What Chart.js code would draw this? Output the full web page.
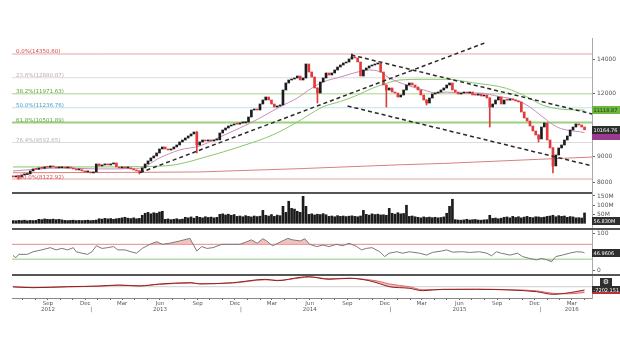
<!DOCTYPE html>
<html><head><meta charset="utf-8">
<script src="https://cdn.jsdelivr.net/npm/chart.js@4.4.1/dist/chart.umd.min.js"></script>
<style>
html,body{margin:0;padding:0;background:#fff;}
#wrap{position:relative;width:620px;height:355px;overflow:hidden;}
canvas{position:absolute;left:0;}
</style></head>
<body><div id="wrap">
<canvas id="cMain" width="620" height="192" style="top:0px"></canvas>
<canvas id="cVol" width="620" height="36" style="top:192px"></canvas>
<canvas id="cRsi" width="620" height="46" style="top:228px"></canvas>
<canvas id="cOsc" width="620" height="60" style="top:274px"></canvas>
</div>
<script>
// ---------------- DATA ----------------
// weekly candles, week 0 = week of 8 Jun 2012
const startDate = '2012-06-08';
const openVals = [8240,8201,8239,8201,8276,8290,8314,8428,8505,8490,
8544,8530,8583,8570,8622,8583,8544,8550,8583,8544,
8583,8544,8505,8466,8475,8428,8390,8395,8352,8390,
8701,8622,8661,8701,8661,8701,8740,8583,8544,8583,
8544,8550,8505,8466,8428,8390,8544,8701,8820,8941,
9023,9147,9315,9400,9315,9272,9315,9400,9485,9616,
9703,9792,9882,9972,10063,9485,9616,9703,9659,9703,
9659,9703,9710,10017,10155,10248,10341,10389,10436,10430,
10484,10490,10531,10774,11122,11173,11122,11430,11640,11800,
11640,11430,11275,11327,11378,12182,12576,12749,12807,12866,
12983,12749,12866,13712,13222,12924,12293,12016,12634,12866,
13162,13043,13162,13343,13526,13650,13775,13838,14028,14156,
14092,13838,12983,13343,13465,13588,13650,13712,13775,13222,
12462,12182,12293,12071,12016,11800,11908,12182,12462,12576,
12462,12349,12182,11908,11640,11482,11746,11962,12016,12071,
12182,12293,12462,12576,12182,12071,11962,12016,12071,12016,
12071,11908,11900,11962,11854,11908,11746,11275,11430,11640,
11800,11430,11640,11630,11693,11640,11587,11535,11021,10725,
10579,10341,10109,9927,9748,10294,10484,9703,9357,8622,
9064,9357,9485,9703,9882,10155,10294,10436,10389,10294];
const closeVals = [8201,8239,8201,8276,8290,8314,8428,8505,8490,8544,
8530,8583,8570,8622,8583,8544,8550,8583,8544,8583,
8544,8505,8466,8475,8428,8390,8395,8352,8390,8701,
8622,8661,8701,8661,8701,8740,8583,8544,8583,8544,
8550,8505,8466,8428,8390,8544,8701,8820,8941,9023,
9147,9315,9400,9315,9272,9315,9400,9485,9616,9703,
9792,9882,9972,10063,9485,9616,9703,9659,9703,9659,
9703,9710,10017,10155,10248,10341,10389,10436,10430,10484,
10490,10531,10774,11122,11173,11122,11430,11640,11800,11640,
11430,11275,11327,11378,12182,12576,12749,12807,12866,12983,
12749,12866,13712,13222,12924,12293,12016,12634,12866,13162,
13043,13162,13343,13526,13650,13775,13838,14028,14156,14092,
13838,12983,13343,13465,13588,13650,13712,13775,13222,12462,
12182,12293,12071,12016,11800,11908,12182,12462,12576,12462,
12349,12182,11908,11640,11482,11746,11962,12016,12071,12182,
12293,12462,12576,12182,12071,11962,12016,12071,12016,12071,
11908,11900,11962,11854,11908,11746,11275,11430,11640,11800,
11430,11640,11630,11693,11640,11587,11535,11021,10725,10579,
10341,10109,9927,9748,10294,10484,9703,9357,8622,9064,
9357,9485,9703,9882,10155,10294,10436,10389,10294,10164.76];
// visible wicks: [week, low, high]
const wicks = [[2,8123,8260],[44,8314,8440],[64,9147,10080],[106,11482,12300],[118,14028,14351],
[130,11275,12470],[144,11378,11650],[166,10294,11760],[183,9616,9940],[188,8352,9370]];
// volume (millions)
const volumeVals = [15,14,16,15,17,14,16,15,16,
22,20,24,22,21,23,20,22,19,
16,15,16,17,15,16,15,16,17,15,16,18,
25,23,27,24,26,22,25,
27,30,33,28,26,30,25,27,
44,55,60,52,58,55,62,66,
22,24,20,22,25,21,23,
33,30,35,28,38,33,30,36,32,34,30,33,
49,52,46,50,44,48,
38,40,36,42,38,35,40,37,39,
71,
44,40,48,38,45,42,
93,60,121,82,78,66,60,148,93,
49,52,46,50,48,53,47,
38,40,36,42,38,40,37,39,41,38,36,40,
71,
49,45,52,48,50,46,47,44,
82,
55,50,58,52,54,
99,
38,40,36,
33,30,35,32,34,31,33,30,32,35,
55,93,132,
20,18,17,19,22,18,20,21,18,17,19,20,
44,
27,29,25,28,
33,35,30,38,32,36,30,34,38,33,31,36,35,32,
34,38,40,44,36,42,38,40,33,37,35,30,
31,29,56.83];
// moving averages (sampled at weeks)
const pinkWeek = [0,9.4,16.3,30,44,51,58,65,72,79,86,93,99,103,108,114,120,124,128,131,137,143,147.5,151,155.5,162.4,169.4,175.3,179.8,184.3,189.2,192.7,197.2,199];
const pinkVal  = [8428,8505,8544,8505,8532,8941,9272,9442,9837,10248,10725,11290,11746,12182,12634,12924,13222,13343,13222,12866,12462,12182,12016,12071,12016,12016,11817,11640,11290,10790,10309,10155,10077,10030];
const greenWeek = [0,16,30,44,56,67.5,79,90.4,99,102,108,114,120,125,130,134.6,142.6,151,160,171.8,178.8,184.3,191.3,199];
const greenVal  = [8583,8583,8583,8596,8661,8995,9413,9927,10531,10790,11290,11561,11908,12271,12555,12749,12790,12790,12593,12276,11817,11378,11157,11118.87];
const longWeek = [0,44,65,100,135,150,183,201.6];
const longVal  = [8359,8375,8390,8517,8669,8721,8886,8978];
// trend lines: [week1, price1, week2, price2]
const trendLines = [[44.2,8363,164.5,15107],[117.8,14286,201.7,10922],[116.5,11327,201.7,8622]];
// fibonacci retracement
const fibNames  = ['0.0%','23.6%','38.2%','50.0%','61.8%','76.4%','100.0%'];
const fibLevels = [14350.60,12880.87,11971.63,11236.76,10501.89,9592.65,8122.92];
// RSI
const rsiWeek = [0,1,2,5,7,10,13,15,17,19,21,22,24,26,27.5,29,31,33,35,36.5,39,41,43,45,47.7,50,52,54.6,58,61.6,64,65.7,67.5,69.6,72.7,76.5,79,81.4,83,85,87,88.3,90.4,93,95.7,97.4,100,101.6,103.3,105.7,108,110,112.7,114.8,117,119.7,121.4,123,125,127.7,129.4,131,133.6,135.7,138,141.6,144,146,149.2,151,153,156.5,159,162.4,165,166.6,168.3,170,173,175.7,177.4,179.8,182.3,184,186,187.5,189,191.3,193.7,196.2,198.3,199];
const rsiVal  = [40,34,43,43,50,55,61,55,59,55,61,50,46,43,50,66,59,61,64,55,55,50,46,59,70,77,70,73,79,86,52,64,59,61,70,70,70,77,82,73,85,79,66,76,86,82,79,85,70,64,68,64,70,66,73,64,55,59,61,50,37,46,50,46,50,46,41,48,52,55,49,50,48,50,46,39,50,46,41,46,37,32,28,32,28,23,37,41,46,50,49,46.9606];
// oscillator (two lines)
const oscWeek = [0,7,19,30,37,44,51,62,65,76.5,88,92,100,103,110,117,124,128,131,138,142.6,149.6,161.4,173,182.3,188,193.7,199];
const oscA = [-200,-2182,0,1527,3709,1527,5891,8728,5891,8728,16147,13092,20511,21820,16147,18329,13092,5891,0,-3491,-8728,-5673,-5673,-7201,-10910,-16583,-13092,-7202.151];
const oscB = [-400,-1800,-300,1000,3000,2000,5000,8000,6800,8000,15000,14000,19000,21000,17500,18500,15000,11000,6000,0,-6500,-6200,-5500,-6500,-9000,-14500,-15500,-12500];
// axis tick labels
const priceTicks = [8000,9000,12000,14000];
const volTicks = [50,100,150];
const rsiTicks = [0,100];
const monthNames = ['Jan','Feb','Mar','Apr','May','Jun','Jul','Aug','Sep','Oct','Nov','Dec'];
const yearLabels = {'2012-8':'2012','2013-5':'2013','2014-5':'2014','2015-5':'2015','2016-2':'2016'};

// ---------------- SETUP ----------------
const FONT = '"DejaVu Sans", Verdana, sans-serif';
Chart.defaults.font.family = FONT;
Chart.defaults.font.size = 6;
Chart.defaults.color = '#555';
Chart.defaults.animation = false;
Chart.defaults.plugins.legend.display = false;
Chart.defaults.plugins.tooltip.enabled = false;
Chart.defaults.elements.point.radius = 0;

const X_MIN = -0.35, X_MAX = 201.6;
const weeks = closeVals.map((_, i) => i);
const t0 = Date.parse(startDate + 'T00:00:00Z');
const monthTicks = [];
for (let yr = 2012; yr <= 2016; yr++) {
  for (let m = 0; m < 12; m++) {
    const w = (Date.UTC(yr, m, 1) - t0) / (7 * 864e5);
    if (w < X_MIN || w > X_MAX) continue;
    const q = (m % 3 === 2);
    let label = '';
    if (q) { const y = yearLabels[yr + '-' + m]; label = y ? [monthNames[m], y] : [monthNames[m], '']; }
    monthTicks.push({ week: w, label, dec: m === 11 });
  }
}

function pts(xs, ys) { return xs.map((x, i) => ({ x, y: ys[i] })); }
function hline(v) { return [{ x: X_MIN, y: v }, { x: X_MAX, y: v }]; }

function rightAxis(type, min, max, tickVals, fmt) {
  return {
    type, min, max, position: 'right',
    border: { display: true, color: '#aaa', width: 1 },
    grid: { drawOnChartArea: false, drawTicks: true, tickLength: 3, color: '#666' },
    ticks: { padding: 2, color: '#555', font: { size: 6 }, autoSkip: false, maxRotation: 0,
             display: tickVals.length > 0, callback: fmt },
    afterBuildTicks: s => { s.ticks = tickVals.map(v => ({ value: v })); },
    afterFit: s => { s.width = 28; s.paddingTop = 0; s.paddingBottom = 0; }
  };
}
const hiddenX = { type: 'linear', min: X_MIN, max: X_MAX, display: false, offset: false };

function labelBox(ctx, y, text, bg, fg) {
  const x0 = 592, w = 28;
  ctx.fillStyle = bg; ctx.fillRect(x0, Math.round(y) - 4, w, 8);
  ctx.fillStyle = fg; ctx.font = '5px ' + FONT; ctx.textBaseline = 'middle'; ctx.textAlign = 'left';
  ctx.fillText(text, x0 + 1.5, Math.round(y) + 0.5, w - 2);
}
function separator(chart, right) {
  const { ctx, chartArea } = chart;
  ctx.save(); ctx.strokeStyle = '#555'; ctx.lineWidth = 2;
  ctx.beginPath(); ctx.moveTo(chartArea.left, chartArea.top + 1); ctx.lineTo(right, chartArea.top + 1); ctx.stroke();
  ctx.restore();
}

// ---------------- MAIN PRICE PANE ----------------
const fibLine = ['#e8a5a5','#dcdcdc','#a8d48e','#c2e1ea','#9ccf80','#dcdcdc','#e8a5a5'];
const fibText = ['#d24a4a','#c9a5a5','#5e9e38','#4aa0b8','#5e9e38','#b4b4b4','#d24a4a'];
const candleColor = weeks.map(i => closeVals[i] >= openVals[i] ? '#1c1c1c' : '#e23a3a');

const mainDatasets = [];
trendLines.forEach(t => mainDatasets.push({ type: 'line', data: [{ x: t[0], y: t[1] }, { x: t[2], y: t[3] }],
  borderColor: '#2a2a2a', borderWidth: 1.5, borderDash: [4, 3], order: 1 }));
mainDatasets.push({ type: 'bar', grouped: false, barThickness: 1, order: 2,
  data: wicks.map(w => ({ x: w[0], y: [w[1], w[2]] })),
  backgroundColor: wicks.map(w => candleColor[w[0]]) });
mainDatasets.push({ type: 'bar', grouped: false, barThickness: 2, minBarLength: 1, order: 3,
  data: weeks.map(i => ({ x: i, y: [openVals[i], closeVals[i]] })), backgroundColor: candleColor });
mainDatasets.push({ type: 'line', data: pts(pinkWeek, pinkVal), borderColor: '#c98cb8', borderWidth: 1, tension: 0.3, cubicInterpolationMode: 'monotone', order: 4 });
mainDatasets.push({ type: 'line', data: pts(greenWeek, greenVal), borderColor: '#8cc66c', borderWidth: 1, tension: 0.3, cubicInterpolationMode: 'monotone', order: 4 });
mainDatasets.push({ type: 'line', data: pts(longWeek, longVal), borderColor: '#d88080', borderWidth: 1, order: 5 });
fibLevels.forEach((v, k) => mainDatasets.push({ type: 'line', data: hline(v), borderColor: fibLine[k], borderWidth: k === 4 ? 2 : 1, order: 6 }));

const mainOverlay = {
  id: 'mainOverlay',
  afterDatasetsDraw(chart) {
    const { ctx } = chart; const y = chart.scales.y;
    ctx.save(); ctx.font = '5.5px ' + FONT; ctx.textBaseline = 'alphabetic'; ctx.textAlign = 'left';
    fibLevels.forEach((v, k) => { ctx.fillStyle = fibText[k]; ctx.fillText(fibNames[k] + '(' + v.toFixed(2) + ')', 16, y.getPixelForValue(v) - 0.5); });
    ctx.restore();
  },
  afterDraw(chart) {
    const { ctx } = chart; const y = chart.scales.y;
    ctx.save();
    const gl = greenVal[greenVal.length - 1], pl = pinkVal[pinkVal.length - 1], cl = closeVals[closeVals.length - 1];
    labelBox(ctx, y.getPixelForValue(gl), gl.toFixed(2), '#6db640', '#1b3a0c');
    labelBox(ctx, y.getPixelForValue(pl) + 3, '', '#9a3c8e', '#fff');
    labelBox(ctx, y.getPixelForValue(cl), cl.toFixed(2), '#2e2e2e', '#fff');
    ctx.restore();
  }
};
new Chart(document.getElementById('cMain'), {
  type: 'line', data: { datasets: mainDatasets },
  options: { responsive: false, devicePixelRatio: 1,
    layout: { padding: { left: 12, top: 38, right: 0, bottom: 0 } },
    scales: { x: hiddenX, y: rightAxis('logarithmic', 7658, 15434, priceTicks, v => String(v)) } },
  plugins: [mainOverlay]
});

// ---------------- VOLUME ----------------
new Chart(document.getElementById('cVol'), {
  type: 'bar',
  data: { datasets: [{ type: 'bar', grouped: false, barThickness: 2, data: pts(weeks, volumeVals), backgroundColor: '#1c1c1c' }] },
  options: { responsive: false, devicePixelRatio: 1,
    layout: { padding: { left: 12, top: 0, right: 0, bottom: 0 } },
    scales: { x: hiddenX, y: rightAxis('linear', -25.8, 171.8, volTicks, v => v + 'M') } },
  plugins: [{ id: 'volOverlay', afterDraw(chart) {
    const { ctx, chartArea } = chart; separator(chart, 592);
    ctx.save(); labelBox(ctx, chartArea.bottom - 7, volumeVals[volumeVals.length - 1].toFixed(3) + 'M', '#2e2e2e', '#fff'); ctx.restore();
  } }]
});

// ---------------- RSI ----------------
new Chart(document.getElementById('cRsi'), {
  type: 'line',
  data: { datasets: [
    { data: pts(rsiWeek, rsiVal), borderColor: '#7a7a7a', borderWidth: 1, order: 1,
      fill: { target: { value: 70 }, above: 'rgba(238,150,150,0.6)', below: 'rgba(0,0,0,0)' } },
    { data: pts(rsiWeek, rsiVal), borderColor: 'rgba(0,0,0,0)', borderWidth: 0, order: 2,
      fill: { target: { value: 30 }, above: 'rgba(0,0,0,0)', below: 'rgba(150,205,130,0.6)' } },
    { data: hline(70), borderColor: '#e38b8b', borderWidth: 1, order: 3 },
    { data: hline(30), borderColor: '#92cf7c', borderWidth: 1, order: 3 }
  ] },
  options: { responsive: false, devicePixelRatio: 1,
    layout: { padding: { left: 12, top: 0, right: 0, bottom: 0 } },
    scales: { x: hiddenX, y: rightAxis('linear', -10, 114, rsiTicks, v => String(v)) } },
  plugins: [{ id: 'rsiOverlay', afterDraw(chart) {
    const { ctx } = chart; separator(chart, 620);
    ctx.save(); labelBox(ctx, chart.scales.y.getPixelForValue(rsiVal[rsiVal.length - 1]), rsiVal[rsiVal.length - 1].toFixed(4), '#2e2e2e', '#fff'); ctx.restore();
  } }]
});

// ---------------- OSCILLATOR + X AXIS ----------------
new Chart(document.getElementById('cOsc'), {
  type: 'line',
  data: { datasets: [
    { data: pts(oscWeek, oscA), borderColor: '#8e1f1f', borderWidth: 1, tension: 0.3, cubicInterpolationMode: 'monotone', order: 1 },
    { data: pts(oscWeek, oscB), borderColor: '#e06a6a', borderWidth: 1, tension: 0.3, cubicInterpolationMode: 'monotone', order: 2,
      fill: { target: 0, above: 'rgba(225,110,110,0.45)', below: 'rgba(225,110,110,0.45)' } },
    { data: hline(0), borderColor: '#d0d0d0', borderWidth: 1, order: 3 }
  ] },
  options: { responsive: false, devicePixelRatio: 1,
    layout: { padding: { left: 12, top: 0, right: 0, bottom: 0 } },
    scales: {
      x: { type: 'linear', min: X_MIN, max: X_MAX, offset: false, position: 'bottom',
        border: { display: true, color: '#888', width: 1 },
        grid: { drawOnChartArea: false, drawTicks: true, tickLength: 2, color: '#666' },
        ticks: { autoSkip: false, maxRotation: 0, minRotation: 0, padding: 1, color: '#555',
                 font: { size: 5.5, lineHeight: 1 }, callback: (v, i) => monthTicks[i] ? monthTicks[i].label : '' },
        afterBuildTicks: s => { s.ticks = monthTicks.map(t => ({ value: t.week })); },
        afterFit: s => { s.height = 36; s.paddingLeft = 0; s.paddingRight = 0; } },
      y: rightAxis('linear', -24657, 27711, [], v => '')
    } },
  plugins: [{ id: 'oscOverlay', afterDraw(chart) {
    const { ctx, chartArea } = chart; separator(chart, 620);
    const x = chart.scales.x, y = chart.scales.y;
    ctx.save();
    ctx.fillStyle = '#555'; ctx.font = '5.5px ' + FONT; ctx.textAlign = 'center'; ctx.textBaseline = 'top';
    monthTicks.filter(t => t.dec).forEach(t => ctx.fillText('|', x.getPixelForValue(t.week) + 6, chartArea.bottom + 8.5));
    const py = y.getPixelForValue(oscA[oscA.length - 1]);
    ctx.fillStyle = '#2e2e2e'; ctx.fillRect(600, py - 12, 12, 8);
    ctx.fillStyle = '#fff'; ctx.font = '7px ' + FONT; ctx.textAlign = 'center'; ctx.textBaseline = 'middle';
    ctx.fillText('\u2699', 606, py - 8);
    labelBox(ctx, py, oscA[oscA.length - 1].toFixed(3), '#2e2e2e', '#fff');
    ctx.fillStyle = '#c03030'; ctx.fillRect(592, Math.round(py) + 2, 28, 2);
    ctx.restore();
  } }]
});
</script>
</body></html>
